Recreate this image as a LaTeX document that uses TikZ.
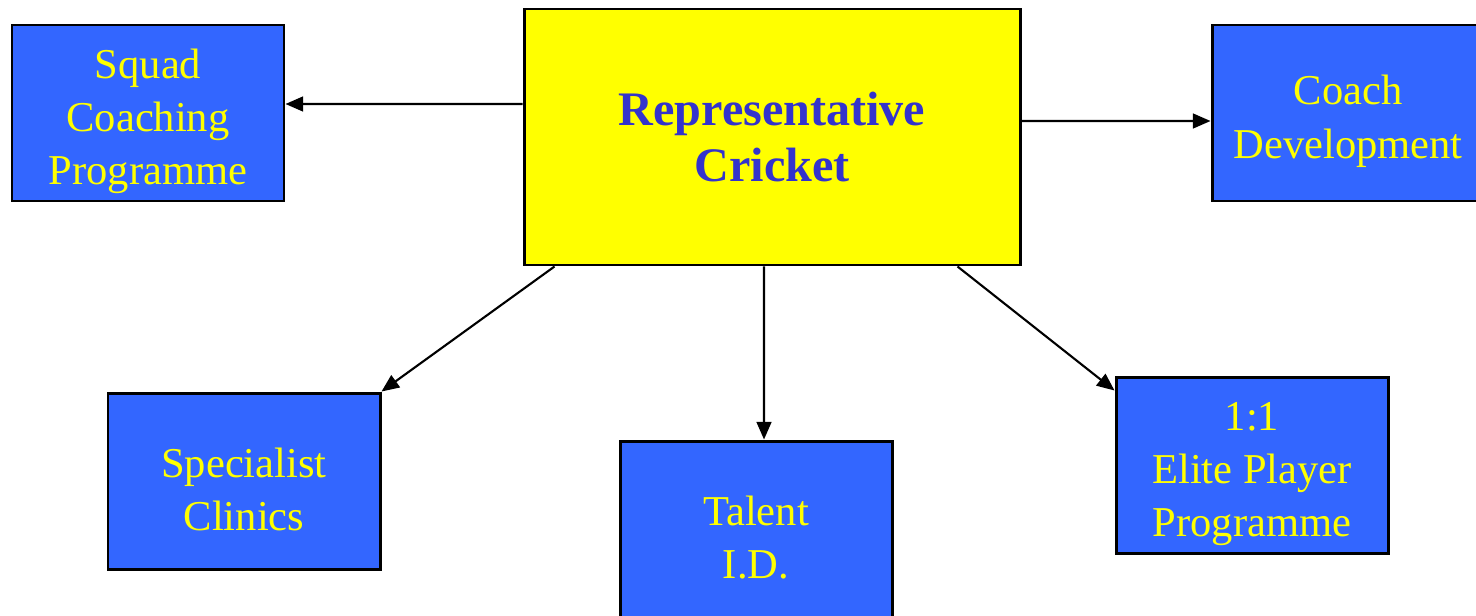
\documentclass[tikz,border=0pt]{standalone}
\usepackage{fontspec}
\setmainfont{Liberation Serif}
\usetikzlibrary{arrows.meta}
\definecolor{boxblue}{HTML}{3366FF}
\definecolor{boxyellow}{HTML}{FFFF00}
\definecolor{titleblue}{HTML}{3333CC}
\newcommand{\padtop}{\rule{0pt}{0.46cm}}
\begin{document}
\begin{tikzpicture}[
  task/.style={draw=black, line width=0.85pt, fill=boxblue, text=boxyellow,
    minimum width=2.72cm, minimum height=1.76cm, align=center, inner sep=0pt,
    font=\fontsize{12.1}{15.1}\selectfont},
  hub/.style={draw=black, line width=0.85pt, fill=boxyellow, text=titleblue,
    minimum width=4.96cm, minimum height=2.56cm, align=center, inner sep=0pt,
    font=\fontsize{13.7}{16.2}\selectfont\bfseries},
  link/.style={line width=0.6pt, -{Triangle[length=5pt,width=4.2pt]}}
]
\useasboundingbox (0,0) rectangle (14.76,-6.15);
\node[hub] (rep) at (7.72,-1.37) {Representative\\Cricket};
\node[task] (squad) at (1.48,-1.13) {\padtop Squad\\Coaching\\Programme};
\node[task] (coach) at (13.48,-1.13) {\padtop Coach\\Development};
\node[task] (clinic) at (2.44,-4.81) {\padtop Specialist\\Clinics};
\node[task] (talent) at (7.56,-5.29) {\padtop Talent\\I.D.};
\node[task] (elite) at (12.52,-4.65) {\padtop 1:1\\Elite Player\\Programme};
% arrows out of the hub
\draw[link] ([yshift=0.33cm]rep.west) -- ([yshift=0.09cm]squad.east);
\draw[link] ([yshift=0.16cm]rep.east) -- ([yshift=-0.08cm]coach.west);
\draw[link] ([xshift=0.32cm]rep.south west) -- (clinic.north east);
\draw[link] ([xshift=-0.08cm]rep.south) -- ([xshift=0.08cm]talent.north);
\draw[link] ([xshift=-0.64cm]rep.south east) -- ([yshift=-0.15cm]elite.north west);
\end{tikzpicture}
\end{document}
